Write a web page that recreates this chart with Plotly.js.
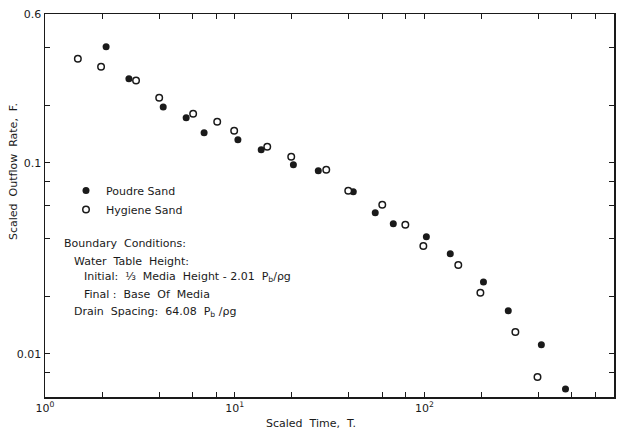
<!DOCTYPE html>
<html>
<head>
<meta charset="utf-8">
<script src="https://cdn.plot.ly/plotly-3.0.1.min.js"></script>
<style>html,body{margin:0;padding:0;background:#fff;}#chart{width:621px;height:434px;}</style>
</head>
<body>
<div id="chart"></div>
<script>
// Scaled time T and scaled outflow rate F
const T_poudre = [2.10, 2.77, 4.20, 5.55, 6.90, 10.4, 13.8, 20.4, 27.6, 42.2, 55.1, 68.6, 102.5, 137, 205, 277, 414, 555];
const F_poudre = [0.405, 0.275, 0.196, 0.172, 0.1436, 0.132, 0.117, 0.0976, 0.0908, 0.0705, 0.0547, 0.048, 0.041, 0.0334, 0.0238, 0.0168, 0.01115, 0.00656];
const T_hygiene = [1.49, 1.975, 3.02, 4.00, 6.04, 8.09, 9.94, 14.85, 19.87, 30.4, 39.7, 60.0, 79.4, 98.8, 151, 197.5, 302, 395];
const F_hygiene = [0.350, 0.318, 0.269, 0.219, 0.1805, 0.164, 0.147, 0.1213, 0.1075, 0.0919, 0.0713, 0.0603, 0.0474, 0.0367, 0.0292, 0.0209, 0.01303, 0.00758];

const xTickVals = [1, 2, 4, 6, 8, 10, 20, 40, 60, 80, 100, 200, 400, 600, 800, 1000];
const xTickText = ['10<sup>0</sup>', '', '', '', '', '10<sup>1</sup>', '', '', '', '', '10<sup>2</sup>', '', '', '', '', '10<sup>3</sup>'];
const yTickVals = [0.6, 0.4, 0.2, 0.1, 0.08, 0.06, 0.04, 0.02, 0.01, 0.008];
const yTickText = ['0.6', '', '', '0.1', '', '', '', '', '0.01', ''];

const seriesNames = ['Poudre Sand', 'Hygiene Sand'];

const FONT = 'DejaVu Sans, Liberation Sans, sans-serif';
const INK = '#1a1a1a';

const traces = [
  {
    x: T_poudre, y: F_poudre, name: seriesNames[0], type: 'scatter', mode: 'markers',
    marker: {symbol: 'circle', size: 7, color: INK, line: {width: 0}}
  },
  {
    x: T_hygiene, y: F_hygiene, name: seriesNames[1], type: 'scatter', mode: 'markers',
    marker: {symbol: 'circle', size: 6.5, color: '#ffffff', line: {width: 1.5, color: INK}}
  }
];

const W = 621, H = 434, L = 45, R = 7, Tm = 14, B = 37;
const pw = W - L - R, ph = H - Tm - B;
const px = v => (v - L) / pw;
const py = v => (H - B - v) / ph;

const textLines = [
  {t: 'Boundary  Conditions:', x: 62, y: 243},
  {t: 'Water  Table  Height:', x: 72, y: 261},
  {t: 'Initial:  ⅓  Media  Height - 2.01  P<sub>b</sub>/ρg', x: 82, y: 277},
  {t: 'Final :  Base  Of  Media', x: 82, y: 294},
  {t: 'Drain  Spacing:  64.08  P<sub>b</sub> /ρg', x: 72, y: 312}
];

const annotations = textLines.map(l => ({
  text: l.t, xref: 'paper', yref: 'paper', x: px(l.x), y: py(l.y),
  xanchor: 'left', yanchor: 'middle', showarrow: false,
  font: {family: FONT, size: 11, color: INK}
}));
annotations.push({
  text: 'Scaled  Outflow  Rate,  F.', xref: 'paper', yref: 'paper',
  x: px(14), y: py(172), textangle: -90, xanchor: 'center', yanchor: 'middle',
  showarrow: false, font: {family: FONT, size: 11, color: INK}
});
annotations.push({
  text: 'Scaled  Time,  T.', xref: 'paper', yref: 'paper',
  x: px(311), y: py(423), xanchor: 'center', yanchor: 'middle',
  showarrow: false, font: {family: FONT, size: 11, color: INK}
});

const axisCommon = {
  type: 'log', showgrid: false, zeroline: false, showline: true, linecolor: INK, linewidth: 1.5,
  mirror: 'ticks', ticks: 'inside', ticklen: 5, tickwidth: 1, tickcolor: INK,
  tickmode: 'array', tickfont: {family: FONT, size: 11, color: INK}
};

const layout = {
  width: W, height: H,
  margin: {l: L, r: R, t: Tm, b: B, pad: 0},
  paper_bgcolor: '#ffffff', plot_bgcolor: '#ffffff',
  showlegend: true,
  legend: {
    x: px(66), y: py(176), xanchor: 'left', yanchor: 'top',
    bgcolor: 'rgba(0,0,0,0)', borderwidth: 0,
    font: {family: FONT, size: 11, color: INK}
  },
  xaxis: Object.assign({}, axisCommon, {
    range: [0, 3], tickvals: xTickVals, ticktext: xTickText
  }),
  yaxis: Object.assign({}, axisCommon, {
    range: [Math.log10(0.00595), Math.log10(0.6)], tickvals: yTickVals, ticktext: yTickText
  }),
  annotations: annotations
};

Plotly.newPlot('chart', traces, layout, {displayModeBar: false, staticPlot: true});
</script>
</body>
</html>
